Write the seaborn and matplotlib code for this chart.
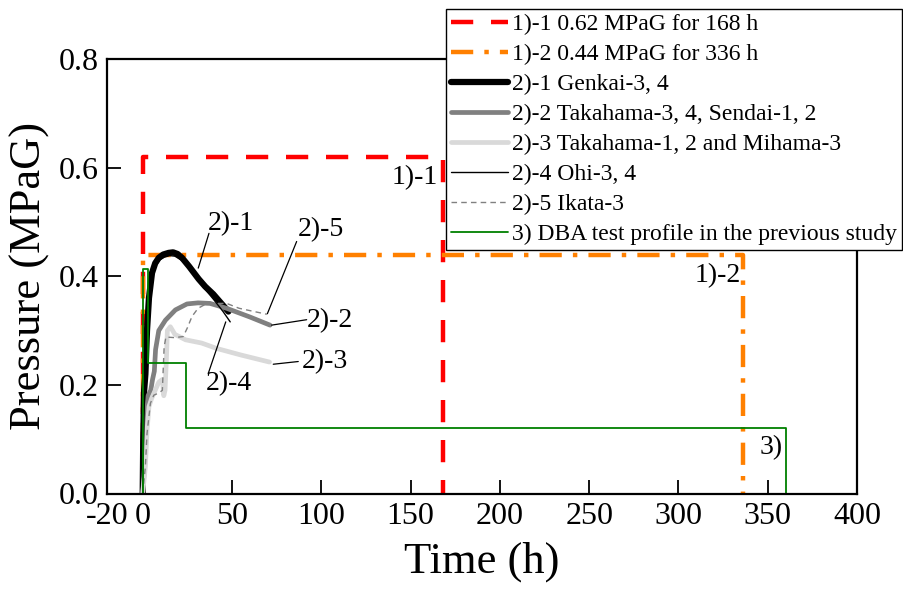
import numpy as np
import pandas as pd
import matplotlib
matplotlib.use("Agg")
import matplotlib.pyplot as plt
import seaborn as sns

# ---------------- data ----------------
p11_t = [0, 0, 168, 168]
p11_p = [0, 0.62, 0.62, 0]
p12_t = [0, 0, 336, 336]
p12_p = [0, 0.44, 0.44, 0]

genkai_t = [0, 0.3, 0.8, 1.5, 2.4, 3.5, 5.2, 7, 9, 11.5, 14.5, 17, 19.5, 22, 26, 31.3, 35, 39.5, 44, 48]
genkai_p = [0, 0.10, 0.19, 0.22, 0.30, 0.36, 0.406, 0.424, 0.434, 0.440, 0.443, 0.444, 0.441, 0.434, 0.418, 0.395, 0.381, 0.367, 0.350, 0.335]

takahama34_t = [0, 1, 2, 3, 4.5, 5.5, 6.5, 7.2, 9, 12.7, 18.3, 24.8, 31, 37.7, 47, 60, 71.3]
takahama34_p = [0, 0.05, 0.14, 0.18, 0.19, 0.21, 0.225, 0.265, 0.30, 0.319, 0.338, 0.349, 0.351, 0.350, 0.341, 0.325, 0.310]

takahama12_t = [0, 1.5, 2.5, 3.5, 5, 7, 9, 11, 11.8, 12.5, 13.3, 13.8, 15.5, 18, 24, 33, 41.5, 55, 71]
takahama12_p = [0, 0.05, 0.12, 0.16, 0.175, 0.19, 0.205, 0.21, 0.18, 0.19, 0.25, 0.30, 0.307, 0.293, 0.283, 0.277, 0.267, 0.255, 0.242]

ohi_t = [0, 0.5, 1, 1.8, 2.8, 4, 5.8, 7.5, 9.5, 12, 15, 18, 23, 27, 32, 36, 40, 45, 49]
ohi_p = [0, 0.10, 0.19, 0.23, 0.30, 0.36, 0.405, 0.42, 0.43, 0.435, 0.438, 0.437, 0.427, 0.41, 0.388, 0.372, 0.356, 0.335, 0.316]

ikata_t = [0, 1.5, 2.4, 4.3, 6.2, 9, 11, 12, 13, 18, 22.7, 25, 27.6, 31, 36, 47, 54, 69.5]
ikata_p = [0, 0.05, 0.11, 0.166, 0.181, 0.185, 0.19, 0.27, 0.288, 0.287, 0.289, 0.305, 0.326, 0.341, 0.35, 0.35, 0.341, 0.33]

dba_t = [0, 0, 3, 3, 24, 24, 360, 360]
dba_p = [0, 0.413, 0.413, 0.24, 0.24, 0.12, 0.12, 0]

labels = ["1)-1 0.62 MPaG for 168 h",
          "1)-2 0.44 MPaG for 336 h",
          "2)-1 Genkai-3, 4",
          "2)-2 Takahama-3, 4, Sendai-1, 2",
          "2)-3 Takahama-1, 2 and Mihama-3",
          "2)-4 Ohi-3, 4",
          "2)-5 Ikata-3",
          "3) DBA test profile in the previous study"]

x_ticks = [-20, 0, 50, 100, 150, 200, 250, 300, 350, 400]
y_ticks = [0.0, 0.2, 0.4, 0.6, 0.8]

# ---------------- style ----------------
sns.set_style("ticks")
plt.rcParams["font.family"] = ["Liberation Serif", "DejaVu Serif"]
plt.rcParams["text.color"] = "black"
plt.rcParams["axes.labelcolor"] = "black"
plt.rcParams["axes.edgecolor"] = "black"
plt.rcParams["xtick.color"] = "black"
plt.rcParams["ytick.color"] = "black"

fig = plt.figure(figsize=(9.04, 5.90), dpi=100)
ax = fig.add_axes([107/904, 1-493.5/590, (857-107)/904, (493.5-59)/590])

series = [
    (p11_t, p11_p, dict(color="#ff0000", lw=3.2, dashes=(5, 4))),
    (p12_t, p12_p, dict(color="#ff8000", lw=3.2, dashes=(5, 2.5, 1, 2.5))),
    (genkai_t, genkai_p, dict(color="black", lw=4.5)),
    (takahama34_t, takahama34_p, dict(color="#808080", lw=3.4)),
    (takahama12_t, takahama12_p, dict(color="#d9d9d9", lw=3.4)),
    (ohi_t, ohi_p, dict(color="black", lw=1.0)),
    (ikata_t, ikata_p, dict(color="#808080", lw=1.0, dashes=(4, 3))),
    (dba_t, dba_p, dict(color="#008000", lw=1.3)),
]

handles = []
for (t, p, st), lab in zip(series, labels):
    df = pd.DataFrame({"Time (h)": t, "Pressure (MPaG)": p})
    kw = dict(st)
    dashes = kw.pop("dashes", None)
    sns.lineplot(data=df, x="Time (h)", y="Pressure (MPaG)", ax=ax, sort=False,
                 estimator=None, color=kw["color"], linewidth=kw["lw"], label=lab,
                 legend=False)
    line = ax.get_lines()[-1]
    line.set_solid_joinstyle("round")
    line.set_solid_capstyle("round")
    if dashes is not None:
        line.set_dashes(dashes)
    handles.append(line)

ax.set_xlim(-20, 400)
ax.set_ylim(0, 0.8)
ax.set_xticks(x_ticks)
ax.set_yticks(y_ticks)
ax.set_xticklabels([str(v) for v in x_ticks])
ax.set_yticklabels([f"{v:.1f}" for v in y_ticks])
ax.tick_params(direction="in", length=10, width=1.3, labelsize=23, pad=6,
               top=False, right=False, colors="black")
for s in ax.spines.values():
    s.set_linewidth(1.6)
    s.set_color("black")
    s.set_visible(True)
ax.set_xlabel("Time (h)", fontsize=32, labelpad=8)
ax.set_ylabel("Pressure (MPaG)", fontsize=32, labelpad=6)

# annotations
fs = 20
ax.text(49.5, 0.497, "2)-1", fontsize=fs, ha="center", va="center")
ax.plot([37.1, 31.1], [0.479, 0.415], color="black", lw=0.9)
ax.text(100, 0.485, "2)-5", fontsize=fs, ha="center", va="center")
ax.plot([86.2, 69.8], [0.464, 0.331], color="black", lw=0.9)
ax.text(105, 0.318, "2)-2", fontsize=fs, ha="center", va="center")
ax.plot([91.8, 72.2], [0.320, 0.310], color="black", lw=0.9)
ax.text(102, 0.242, "2)-3", fontsize=fs, ha="center", va="center")
ax.plot([87.1, 73.1], [0.243, 0.238], color="black", lw=0.9)
ax.text(48.3, 0.202, "2)-4", fontsize=fs, ha="center", va="center")
ax.plot([36.7, 46.5], [0.221, 0.316], color="black", lw=0.9)
ax.text(152.5, 0.581, "1)-1", fontsize=fs, ha="center", va="center")
ax.text(322, 0.402, "1)-2", fontsize=fs, ha="center", va="center")
ax.text(352, 0.084, "3)", fontsize=fs, ha="center", va="center")

leg = fig.legend(handles, labels, loc="upper right",
                 bbox_to_anchor=(902/904, 1-9/590), bbox_transform=fig.transFigure,
                 fontsize=17, frameon=True, fancybox=False, framealpha=1,
                 edgecolor="black", borderpad=0.2, labelspacing=0.36,
                 handlelength=2.4, handletextpad=0.2, borderaxespad=0)
leg.get_frame().set_linewidth(1.0)

fig.savefig("out.png", dpi=100)
